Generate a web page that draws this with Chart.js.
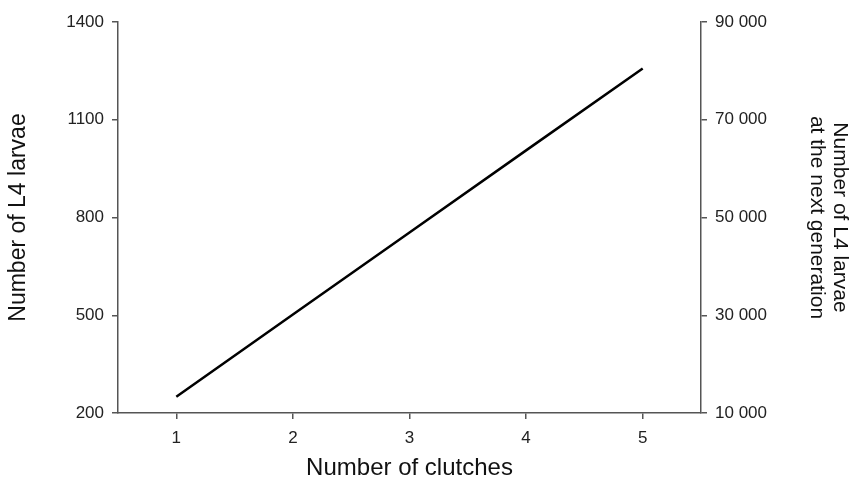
<!DOCTYPE html>
<html>
<head>
<meta charset="utf-8">
<script src="https://cdn.jsdelivr.net/npm/chart.js@4"></script>
<style>
  body { margin: 0; background: #fff; }
</style>
</head>
<body>
<canvas id="chart" width="859" height="490"></canvas>
<script>
// data
const clutches = [1, 2, 3, 4, 5];
const larvae = [250, 502, 754, 1006, 1257];
const xTicks = [1, 2, 3, 4, 5];
const leftTicks = [200, 500, 800, 1100, 1400];
const rightTicks = [10000, 30000, 50000, 70000, 90000];

const axisColor = '#555';
const font = 'Liberation Sans, Arial, sans-serif';

function setTicks(list) {
    return function(scale) {
        scale.ticks = list.map(v => ({ value: v }));
    };
}
function spaced(v) {
    return String(v).replace(/\B(?=(\d{3})+(?!\d))/g, ' ');
}

const ctx = document.getElementById('chart');
new Chart(ctx, {
    type: 'line',
    data: {
        datasets: [{
            data: clutches.map((c, i) => ({ x: c, y: larvae[i] })),
            borderColor: '#000',
            borderWidth: 2.5,
            pointRadius: 0,
            tension: 0,
            yAxisID: 'y'
        }]
    },
    options: {
        responsive: false,
        animation: false,
        layout: { padding: { top: 22, left: 0, right: 0, bottom: 0 } },
        plugins: { legend: { display: false }, tooltip: { enabled: false } },
        scales: {
            x: {
                type: 'linear',
                min: 0.5,
                max: 5.5,
                afterBuildTicks: setTicks(xTicks),
                afterFit: s => { s.height = 77; },
                border: { color: axisColor, width: 1.5 },
                grid: { drawOnChartArea: false, tickLength: 6, color: axisColor, lineWidth: 1.5 },
                ticks: { color: '#222', font: { family: font, size: 17 }, padding: 9 },
                title: {
                    display: true,
                    text: 'Number of clutches',
                    color: '#111',
                    font: { family: font, size: 24 },
                    padding: { top: 0, bottom: 7 }
                }
            },
            y: {
                position: 'left',
                min: 200,
                max: 1400,
                afterBuildTicks: setTicks(leftTicks),
                afterFit: s => { s.width = 118; },
                border: { color: axisColor, width: 1.5 },
                grid: { drawOnChartArea: false, tickLength: 6, color: axisColor, lineWidth: 1.5 },
                ticks: {
                    color: '#222',
                    font: { family: font, size: 17 },
                    padding: 8,
                    callback: v => String(v)
                },
                title: {
                    display: true,
                    text: 'Number of L4 larvae',
                    color: '#111',
                    font: { family: font, size: 23 },
                    padding: { top: 5, bottom: 0 }
                }
            },
            y2: {
                position: 'right',
                min: 10000,
                max: 90000,
                afterBuildTicks: setTicks(rightTicks),
                afterFit: s => { s.width = 158; },
                border: { color: axisColor, width: 1.5 },
                grid: { drawOnChartArea: false, tickLength: 6, color: axisColor, lineWidth: 1.5 },
                ticks: {
                    color: '#222',
                    font: { family: font, size: 17 },
                    padding: 8,
                    callback: v => spaced(v)
                },
                title: {
                    display: true,
                    text: ['Number of L4 larvae', 'at the next generation'],
                    color: '#111',
                    font: { family: font, size: 21, lineHeight: 1.12 },
                    padding: { top: 7, bottom: 0 }
                }
            }
        }
    }
});
</script>
</body>
</html>
